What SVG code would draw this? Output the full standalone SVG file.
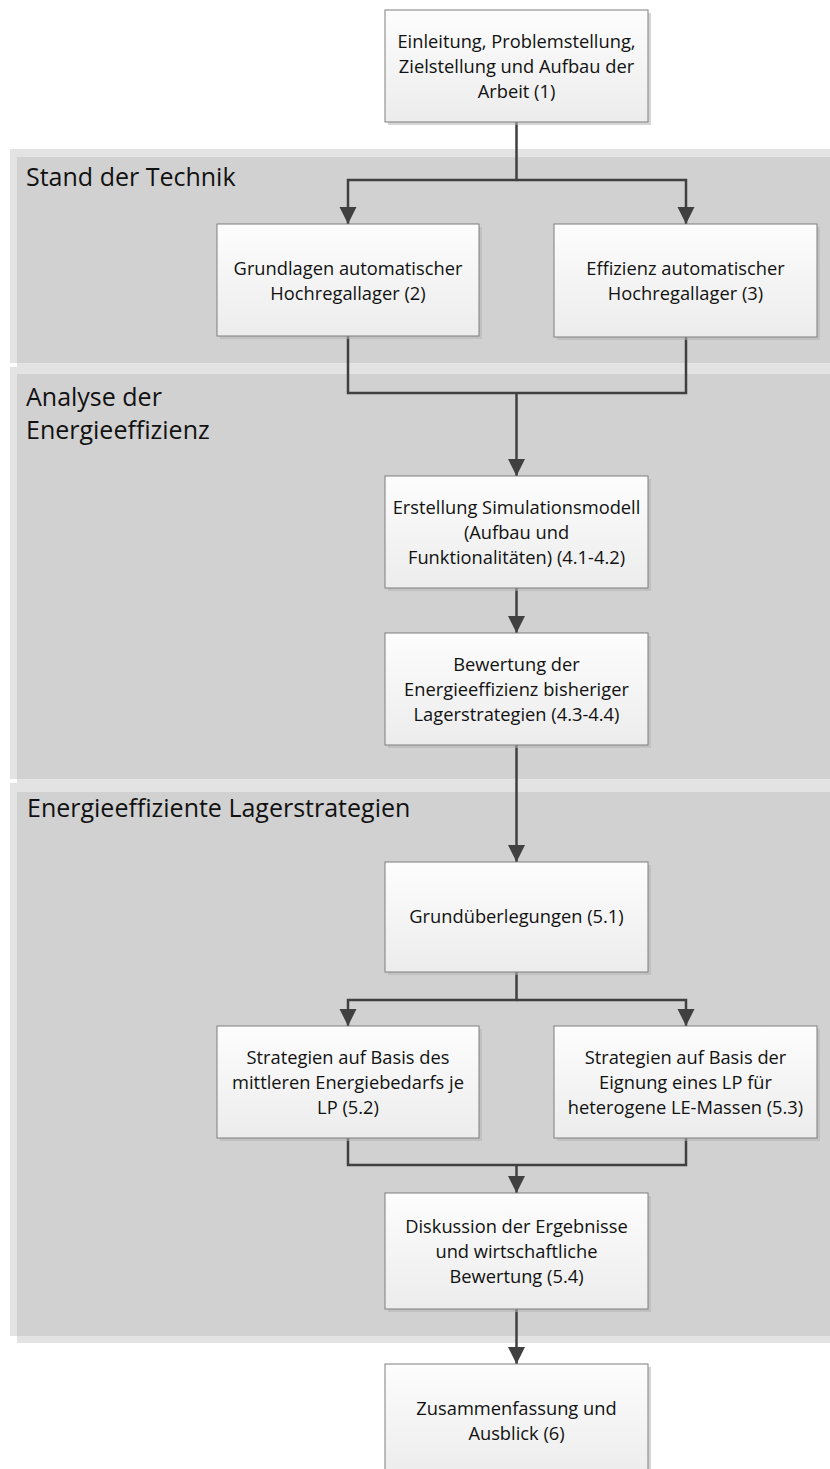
<svg xmlns="http://www.w3.org/2000/svg" width="830" height="1469" viewBox="0 0 830 1469">
  <defs>
    <linearGradient id="boxFill" x1="0" y1="0" x2="0" y2="1">
      <stop offset="0" stop-color="#fdfdfd"/>
      <stop offset="1" stop-color="#ececec"/>
    </linearGradient>
    <marker id="arrow" markerUnits="userSpaceOnUse" markerWidth="18" markerHeight="18" refX="17" refY="8.5" orient="auto">
      <path d="M0,0 L17,8.5 L0,17 Z" fill="#404040"/>
    </marker>
    <style>
      .band-edge { fill: #e3e3e3; }
      .band-body { fill: #d1d1d1; }
      .band-title { font-family: "Open Sans", "Liberation Sans", sans-serif; font-size: 25px; fill: #111; }
      .box { fill: url(#boxFill); stroke: #7f7f7f; stroke-width: 1; }
      .shadow { fill: #b5b5b5; opacity: 0.55; }
      .label { font-family: "Open Sans", "Liberation Sans", sans-serif; font-size: 18.3px; fill: #111; text-anchor: middle; }
      .conn { fill: none; stroke: #404040; stroke-width: 2.5; }
      .conn.arr { marker-end: url(#arrow); }
    </style>
  </defs>

  <rect width="830" height="1469" fill="#ffffff"/>

  <!-- swimlane bands -->
  <g id="band-stand">
    <rect class="band-edge" x="10" y="149" width="820" height="214"/>
    <rect class="band-edge" x="17" y="157" width="813" height="210"/>
    <rect class="band-body" x="17" y="157" width="813" height="206"/>
    <text class="band-title" x="26" y="186">Stand der Technik</text>
  </g>
  <g id="band-analyse">
    <rect class="band-edge" x="10" y="367" width="820" height="412"/>
    <rect class="band-edge" x="17" y="374" width="813" height="409"/>
    <rect class="band-body" x="17" y="374" width="813" height="405"/>
    <text class="band-title" x="26" y="406">Analyse der</text>
    <text class="band-title" x="26" y="439">Energieeffizienz</text>
  </g>
  <g id="band-strategien">
    <rect class="band-edge" x="10" y="783" width="820" height="553"/>
    <rect class="band-edge" x="17" y="792" width="813" height="551"/>
    <rect class="band-body" x="17" y="792" width="813" height="544"/>
    <text class="band-title" x="27" y="817">Energieeffiziente Lagerstrategien</text>
  </g>

  <!-- connectors -->
  <g id="connectors">
    <path class="conn arr" d="M516.5,122 V180 H348 V224"/>
    <path class="conn arr" d="M516.5,180 H686 V224"/>
    <path class="conn" d="M348,336 V393 H686 V337"/>
    <path class="conn arr" d="M516.5,393 V476"/>
    <path class="conn arr" d="M516.5,588 V633"/>
    <path class="conn arr" d="M516.5,745 V862"/>
    <path class="conn arr" d="M516.5,972 V1000 H348 V1026"/>
    <path class="conn arr" d="M516.5,1000 H686 V1026"/>
    <path class="conn" d="M348,1138 V1165 H686 V1138"/>
    <path class="conn arr" d="M516.5,1165 V1193"/>
    <path class="conn arr" d="M516.5,1309 V1364"/>
  </g>

  <!-- nodes -->
  <g id="n1">
    <rect class="shadow" x="388" y="13" width="263" height="112"/>
    <rect class="box" x="385" y="10" width="263" height="112"/>
    <text class="label" x="516.5" y="48">Einleitung, Problemstellung,</text>
    <text class="label" x="516.5" y="73">Zielstellung und Aufbau der</text>
    <text class="label" x="516.5" y="98">Arbeit (1)</text>
  </g>
  <g id="n2">
    <rect class="shadow" x="220" y="227" width="262" height="112"/>
    <rect class="box" x="217" y="224" width="262" height="112"/>
    <text class="label" x="348" y="275">Grundlagen automatischer</text>
    <text class="label" x="348" y="300">Hochregallager (2)</text>
  </g>
  <g id="n3">
    <rect class="shadow" x="557" y="227" width="263" height="113"/>
    <rect class="box" x="554" y="224" width="263" height="113"/>
    <text class="label" x="685.5" y="275">Effizienz automatischer</text>
    <text class="label" x="685.5" y="300">Hochregallager (3)</text>
  </g>
  <g id="n4">
    <rect class="shadow" x="388" y="479" width="263" height="112"/>
    <rect class="box" x="385" y="476" width="263" height="112"/>
    <text class="label" x="516.5" y="514">Erstellung Simulationsmodell</text>
    <text class="label" x="516.5" y="539">(Aufbau und</text>
    <text class="label" x="516.5" y="564">Funktionalitäten) (4.1-4.2)</text>
  </g>
  <g id="n5">
    <rect class="shadow" x="388" y="636" width="263" height="112"/>
    <rect class="box" x="385" y="633" width="263" height="112"/>
    <text class="label" x="516.5" y="671">Bewertung der</text>
    <text class="label" x="516.5" y="696">Energieeffizienz bisheriger</text>
    <text class="label" x="516.5" y="721">Lagerstrategien (4.3-4.4)</text>
  </g>
  <g id="n6">
    <rect class="shadow" x="388" y="865" width="263" height="110"/>
    <rect class="box" x="385" y="862" width="263" height="110"/>
    <text class="label" x="516.5" y="923">Grundüberlegungen (5.1)</text>
  </g>
  <g id="n7">
    <rect class="shadow" x="220" y="1029" width="262" height="112"/>
    <rect class="box" x="217" y="1026" width="262" height="112"/>
    <text class="label" x="348" y="1064">Strategien auf Basis des</text>
    <text class="label" x="348" y="1089">mittleren Energiebedarfs je</text>
    <text class="label" x="348" y="1114">LP (5.2)</text>
  </g>
  <g id="n8">
    <rect class="shadow" x="557" y="1029" width="263" height="112"/>
    <rect class="box" x="554" y="1026" width="263" height="112"/>
    <text class="label" x="685.5" y="1064">Strategien auf Basis der</text>
    <text class="label" x="685.5" y="1089">Eignung eines LP für</text>
    <text class="label" x="685.5" y="1114">heterogene LE-Massen (5.3)</text>
  </g>
  <g id="n9">
    <rect class="shadow" x="388" y="1196" width="263" height="116"/>
    <rect class="box" x="385" y="1193" width="263" height="116"/>
    <text class="label" x="516.5" y="1233">Diskussion der Ergebnisse</text>
    <text class="label" x="516.5" y="1258">und wirtschaftliche</text>
    <text class="label" x="516.5" y="1283">Bewertung (5.4)</text>
  </g>
  <g id="n10">
    <rect class="shadow" x="388" y="1367" width="263" height="112"/>
    <rect class="box" x="385" y="1364" width="263" height="112"/>
    <text class="label" x="516.5" y="1415">Zusammenfassung und</text>
    <text class="label" x="516.5" y="1440">Ausblick (6)</text>
  </g>
</svg>
